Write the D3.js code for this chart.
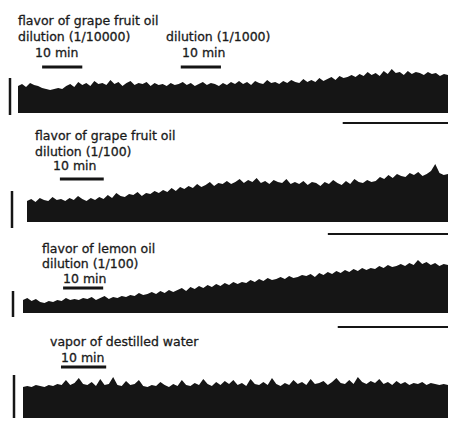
<!DOCTYPE html>
<html>
<head>
<meta charset="utf-8">
<script src="https://cdn.jsdelivr.net/npm/d3@7"></script>
<style>
body { margin: 0; background: #fff; }
svg text { font-family: "DejaVu Sans", sans-serif; font-size: 12.5px; fill: #1a1a1a; stroke: #1a1a1a; stroke-width: 0.3px; }
</style>
</head>
<body>
<svg id="chart" width="453" height="425"></svg>
<script>
// integrated nerve activity, amplitude above baseline (arbitrary units)
var grapefruit10000Trace = [
    27, 29, 26, 30, 28, 27,
    25, 24, 23, 24, 25, 24,
    27, 29, 26, 31, 28, 30, 27, 32, 29,
    30, 28, 33, 29, 31, 27, 30, 32, 28, 30, 29, 31, 27, 30, 28,
    29, 27, 30, 28, 29, 31, 28, 30, 27, 29, 31, 28, 30, 29, 27, 30, 28, 31, 29, 32,
    29, 31, 28, 32, 30, 29, 33, 30, 31, 29, 32, 30, 33, 31, 30, 34, 31,
    33, 31, 35, 32, 34, 36, 33, 37, 35, 36,
    38, 36, 39, 37, 41, 38, 40, 37, 42, 39, 44, 40, 41, 38, 42, 39, 41, 40, 38, 41, 39, 40, 37, 39, 38
];
var grapefruit100Trace = [
    21, 23, 20, 24, 22, 21, 25, 22, 23, 21, 24, 22, 26, 23, 21, 24, 22,
    25, 23, 27, 24, 29, 26, 25, 28, 27, 30, 26, 29, 28, 31, 29,
    32, 30, 34, 31, 35, 33, 36, 34, 38, 35, 37, 40, 36, 39, 38,
    41, 38, 40, 43, 39, 42, 40, 44, 39, 41, 38, 42, 40, 39, 43, 38, 40,
    38, 41, 37, 40, 39, 36, 40, 38, 42, 39, 37, 41, 38, 43, 40, 39, 42, 40, 41,
    45, 43, 47, 44, 48, 46, 45, 49, 47, 50, 46, 48, 51, 58, 49, 47, 48
];
var lemon100Trace = [
    13, 15, 12, 14, 11, 10, 12, 11, 13, 12, 15, 13, 14,
    13, 15, 14, 16, 13, 15, 17, 14, 16, 15, 17,
    16, 18, 17, 20, 18, 19, 21, 19, 22, 20, 23, 21,
    23, 25, 22, 26, 24, 27, 25, 28, 26, 29, 27, 30, 28, 31, 29,
    31, 30, 33, 31, 34, 32, 35, 33, 34, 36, 34, 37, 35, 36, 38,
    37, 39, 36, 40, 38, 41, 39, 42, 40, 43, 41, 44, 42, 45, 43,
    45, 44, 47, 45, 48, 46, 47, 49, 47, 50, 48, 53, 49, 51, 48, 50, 47, 49, 48
];
var waterTrace = [
    31, 32, 31, 33, 32, 31, 33, 32, 34, 33,
    38, 33, 35, 40, 34, 33, 36, 32, 39, 33,
    34, 41, 33, 32, 37, 33, 34, 38, 32, 31,
    33, 32, 36, 33, 31, 34, 32, 38, 33, 32,
    35, 33, 39, 34, 32, 36, 33, 37, 34, 38,
    33, 35, 32, 39, 34, 33, 36, 33, 40, 34,
    32, 35, 33, 38, 34, 36, 33, 39, 34, 35,
    37, 33, 36, 40, 35, 34, 38, 34, 41, 36,
    34, 37, 35, 39, 34, 36, 33, 37, 34, 36,
    33, 35, 34, 36, 33, 35, 34, 33, 34, 33
];

var traces = [grapefruit10000Trace, grapefruit100Trace, lemon100Trace, waterTrace];
var durations = [107, 96, 106, 94];              // minutes recorded per trace
var stimOnsets = [[6, 40.5], [7.5], [10], [8.4]]; // minutes
var stimLength = 10;                              // minutes
var endMarks = [[80.8, 107], [68.6, 96], [78.5, 106], null];
var calibration = [[-2, 35], [-6, 31], [-4, 22], [0, 43]];
var titles = [
    ["flavor of grape fruit oil", "dilution (1/10000)", "dilution (1/1000)"],
    ["flavor of grape fruit oil", "dilution (1/100)"],
    ["flavor of lemon oil", "dilution (1/100)"],
    ["vapor of destilled water"]
];
var stimLabel = "10 min";

// page layout, pixels
var layout = [
    { x0: 18, x1: 448, base: 113, calX: 10, barY: 67, endY: 123,
      titlePos: [[18, 25], [18, 41], [166, 41]], labelPos: [[35, 57], [182, 57]] },
    { x0: 27, x1: 448, base: 222, calX: 12, barY: 179, endY: 234,
      titlePos: [[35, 140], [35, 156]], labelPos: [[53, 170]] },
    { x0: 23, x1: 448, base: 313, calX: 13, barY: 288, endY: 327,
      titlePos: [[42, 253], [42, 268]], labelPos: [[63, 283]] },
    { x0: 23, x1: 448, base: 418, calX: 14, barY: 367, endY: null,
      titlePos: [[50, 346]], labelPos: [[61, 362]] }
];

var svg = d3.select('#chart');
var ink = '#151515';

traces.forEach(function (trace, p) {
    var L = layout[p];
    var g = svg.append('g');
    var n = trace.length;
    var dur = durations[p];

    var x = d3.scaleLinear().domain([0, dur]).range([L.x0, L.x1]);
    var y = d3.scaleLinear().domain([0, 60]).range([L.base, L.base - 60]);

    var area = d3.area()
        .x(function (d, i) { return x(i * dur / (n - 1)); })
        .y0(y(0))
        .y1(function (d) { return y(d); });

    g.append('path')
        .datum(trace)
        .attr('d', area)
        .attr('fill', ink);

    // amplitude calibration
    g.append('line')
        .attr('x1', L.calX).attr('x2', L.calX)
        .attr('y1', y(calibration[p][0]))
        .attr('y2', y(calibration[p][1]))
        .attr('stroke', ink)
        .attr('stroke-width', 2.5);

    // stimulus bars
    g.selectAll('line.stim')
        .data(stimOnsets[p])
        .enter().append('line')
        .attr('class', 'stim')
        .attr('x1', function (d) { return x(d); })
        .attr('x2', function (d) { return x(d + stimLength); })
        .attr('y1', L.barY).attr('y2', L.barY)
        .attr('stroke', ink)
        .attr('stroke-width', 3);

    g.selectAll('text.stimlabel')
        .data(stimOnsets[p])
        .enter().append('text')
        .attr('class', 'stimlabel')
        .attr('x', function (d, i) { return L.labelPos[i][0]; })
        .attr('y', function (d, i) { return L.labelPos[i][1]; })
        .text(stimLabel);

    g.selectAll('text.title')
        .data(titles[p])
        .enter().append('text')
        .attr('class', 'title')
        .attr('x', function (d, i) { return L.titlePos[i][0]; })
        .attr('y', function (d, i) { return L.titlePos[i][1]; })
        .text(function (d) { return d; });

    if (endMarks[p]) {
        g.append('line')
            .attr('x1', x(endMarks[p][0]))
            .attr('x2', x(endMarks[p][1]))
            .attr('y1', L.endY).attr('y2', L.endY)
            .attr('stroke', ink)
            .attr('stroke-width', 2);
    }
});
</script>
</body>
</html>
